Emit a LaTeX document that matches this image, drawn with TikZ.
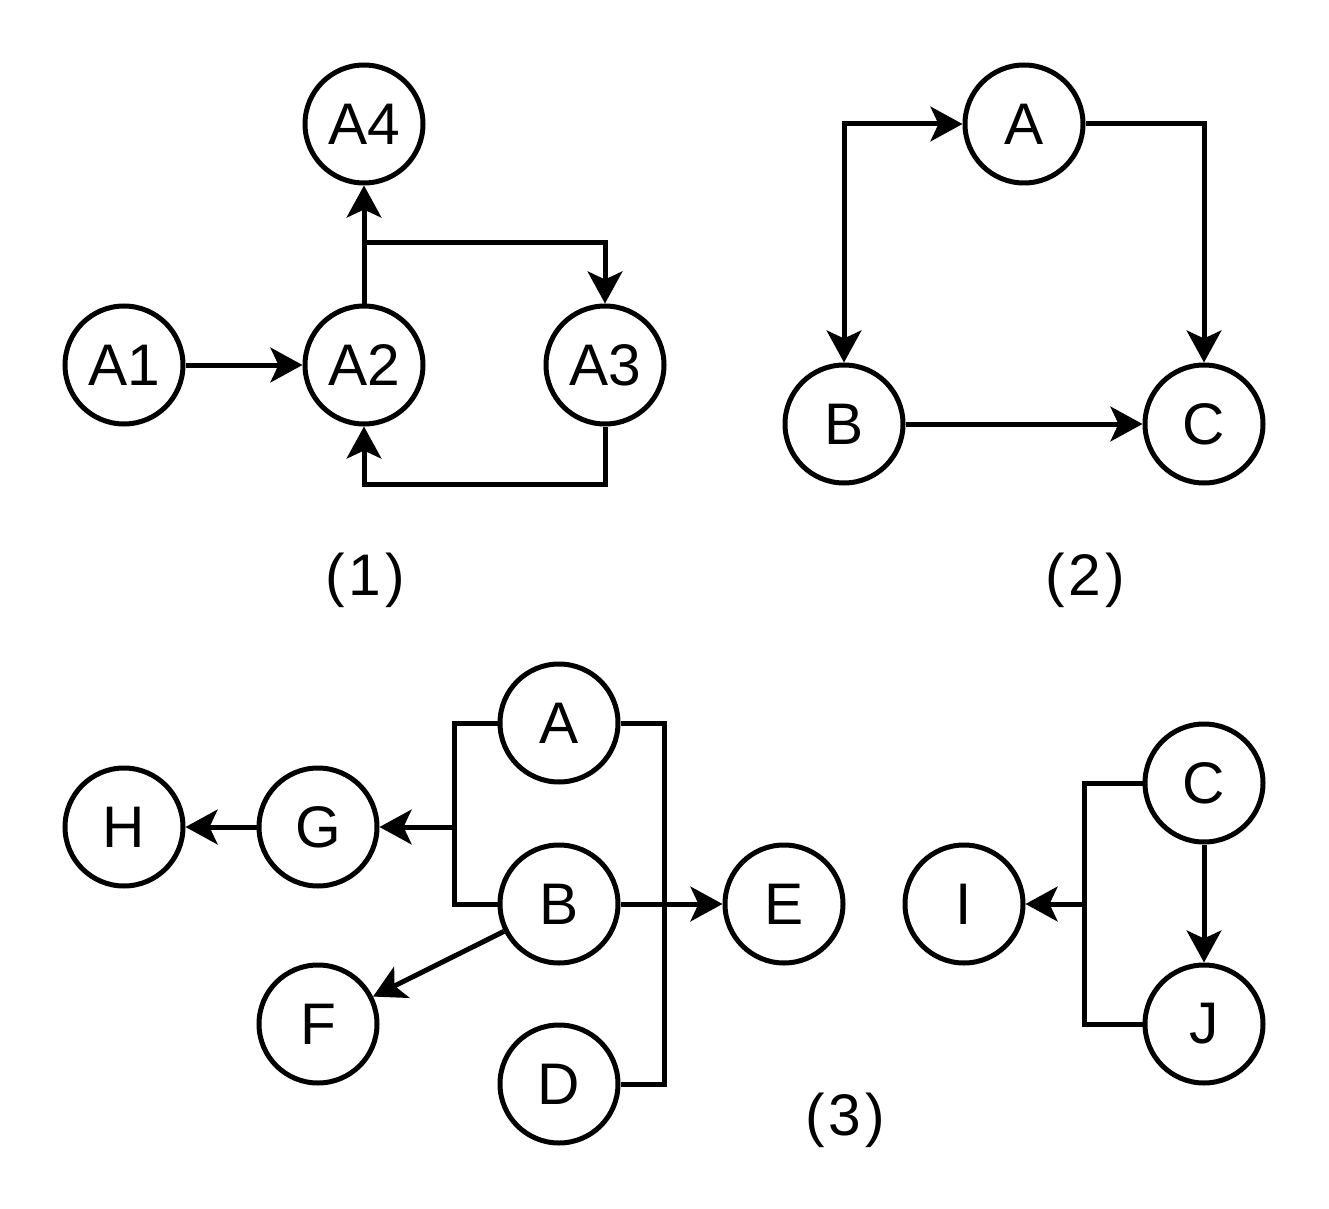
\documentclass[tikz,border=0pt]{standalone}
\usepackage{fontspec}
\setmainfont{Liberation Sans}
\usetikzlibrary{arrows.meta}
\begin{document}
\begin{tikzpicture}[x=0.75pt,y=-0.75pt,
  vnode/.style={draw,circle,line width=3.75pt,minimum size=88.5pt,inner sep=0pt,font=\fontsize{44}{50}\selectfont},
  conn/.style={line width=3.75pt},
  arr/.style={conn,-{Stealth[length=24pt,width=26pt,inset=6pt]}},
  darr/.style={conn,{Stealth[length=24pt,width=26pt,inset=6pt]}-{Stealth[length=24pt,width=26pt,inset=6pt]}},
  partlabel/.style={font=\fontsize{44}{50}\selectfont}]
\useasboundingbox (0,0) rectangle (1329,1209);
% Part 1
\node[vnode] (pA4) at (364,124) {A4};
\node[vnode] (pA1) at (124,365) {A1};
\node[vnode] (pA2) at (364,365) {A2};
\node[vnode] (pA3) at (605,365) {A3};
\coordinate (j1) at (364,243);
\coordinate (b1) at (364,484);
\draw[arr] (pA1) -- (pA2);
\draw[arr] (pA2.north) -- (pA4.south);
\draw[arr] (j1) -| (pA3.north);
\draw[arr] (pA3.south) |- (b1) -- (pA2.south);
\node[partlabel] (l1) at (365,580) {(\kern3pt1\kern3pt)};
% Part 2
\node[vnode] (qA) at (1024,124) {A};
\node[vnode] (qB) at (844,424) {B};
\node[vnode] (qC) at (1204,424) {C};
\draw[darr] (qB.north) |- (qA.west);
\draw[arr] (qA.east) -| (qC.north);
\draw[arr] (qB) -- (qC);
\node[partlabel] (l2) at (1085,580) {(\kern3pt2\kern3pt)};
% Part 3
\node[vnode] (rA) at (559,723) {A};
\node[vnode] (rB) at (559,904) {B};
\node[vnode] (rD) at (559,1084) {D};
\node[vnode] (rE) at (784,904) {E};
\node[vnode] (rG) at (318,827) {G};
\node[vnode] (rH) at (124,827) {H};
\node[vnode] (rF) at (318,1024) {F};
\node[vnode] (rC) at (1204,783) {C};
\node[vnode] (rI) at (964,904) {I};
\node[vnode] (rJ) at (1204,1024) {J};
\coordinate (xL) at (454,827);
\coordinate (xR) at (664,904);
\coordinate (xI) at (1084,904);
\draw[conn] (rA.west) -| (xL) |- (rB.west);
\draw[arr] (xL) -- (rG.east);
\draw[arr] (rG) -- (rH);
\draw[conn] (rA.east) -| (xR);
\draw[conn] (rD.east) -| (xR);
\draw[arr] (rB.east) -- (rE.west);
\draw[arr] (rB) -- (rF);
\draw[conn] (rC.west) -| (xI) |- (rJ.west);
\draw[arr] (xI) -- (rI.east);
\draw[arr] (rC) -- (rJ);
\node[partlabel] (l3) at (845,1120) {(\kern3pt3\kern3pt)};
\end{tikzpicture}
\end{document}
